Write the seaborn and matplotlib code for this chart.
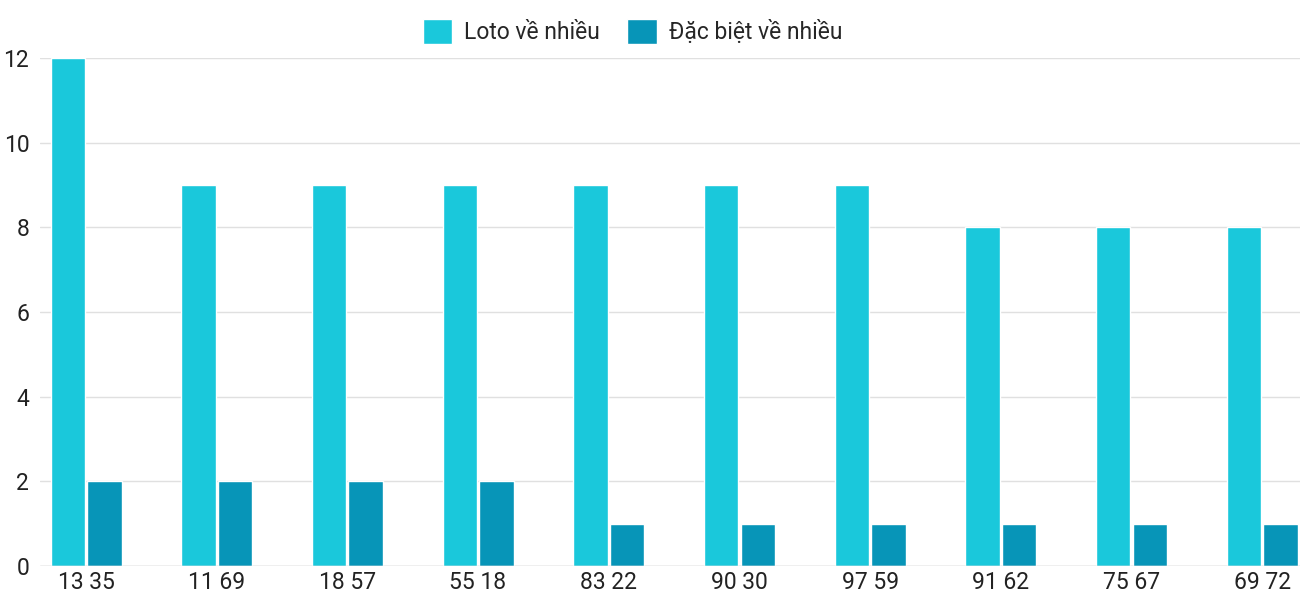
import pandas as pd
import numpy as np
import seaborn as sns
import matplotlib.pyplot as plt

categories = ["13 35", "11 69", "18 57", "55 18", "83 22", "90 30", "97 59", "91 62", "75 67", "69 72"]
loto = [12, 9, 9, 9, 9, 9, 9, 8, 8, 8]
dacbiet = [2, 2, 2, 2, 1, 1, 1, 1, 1, 1]
series_names = ["Loto về nhiều", "Đặc biệt về nhiều"]
colors = ["#1ac8db", "#0795b8"]

df = pd.DataFrame({
    "cap": categories * 2,
    "value": loto + dacbiet,
    "series": [series_names[0]] * len(categories) + [series_names[1]] * len(categories),
})

sns.set_style("white")
plt.rcParams['font.family'] = ['Roboto', 'DejaVu Sans']

fig = plt.figure(figsize=(13, 6), dpi=100)
ax = fig.add_axes([0.031, 0.057, 0.969, 0.846])
sns.barplot(data=df, x="cap", y="value", hue="series", palette=colors,
            width=0.56, gap=0.06, ax=ax, saturation=1, legend=True)

ax.set_xlim(-0.35, 9.29)
ax.set_ylim(0, 12)
ax.set_yticks(range(0, 13, 2))
ax.yaxis.grid(True, color="#e0e0e0", linewidth=1)
ax.set_axisbelow(True)
for s in ax.spines.values():
    s.set_visible(False)
ax.axhline(0, color="#cccccc", linewidth=1)
ax.set_xlabel("")
ax.set_ylabel("")
ax.tick_params(axis="both", length=0, labelsize=16.5, colors="#222222")
ax.tick_params(axis="y", pad=8)
ax.tick_params(axis="x", pad=4)

ax.legend(loc="lower center", bbox_to_anchor=(0.47, 1.0), ncol=2, frameon=False,
          fontsize=16.5, handlelength=1.3, handleheight=1.3, columnspacing=1.2,
          handletextpad=0.5, borderaxespad=0.2)

fig.savefig("out.png", dpi=100)
